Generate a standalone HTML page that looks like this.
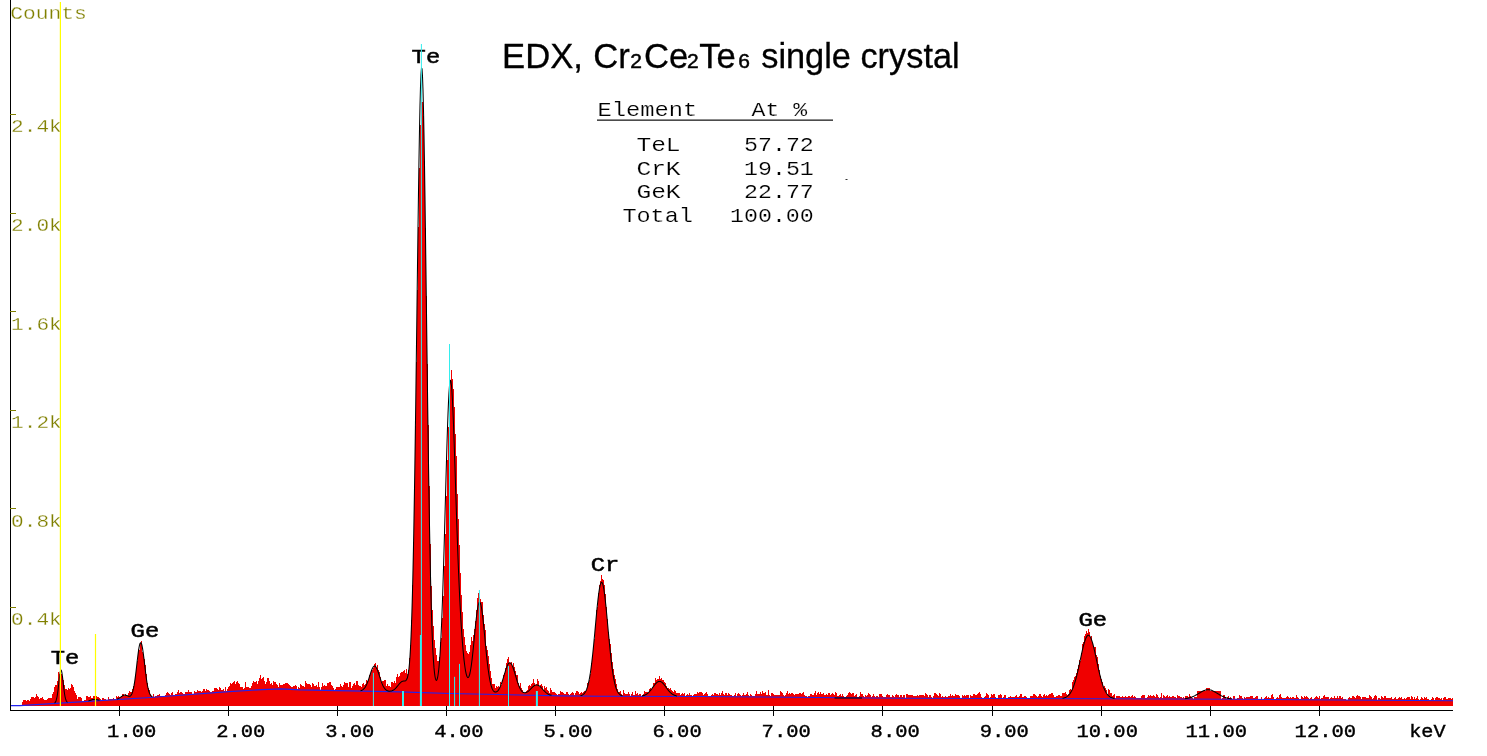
<!DOCTYPE html>
<html lang="en">
<head>
<meta charset="utf-8">
<title>EDX, Cr2Ce2Te6 single crystal</title>
<style>
html,body{margin:0;padding:0;background:#fff;}
body{width:1487px;height:756px;overflow:hidden;position:relative;}
svg{position:absolute;left:0;top:0;display:block;}
.mono{font-family:"Liberation Mono","Courier New",monospace;}
.sans{font-family:"Liberation Sans",Arial,sans-serif;}
.ylab{font-size:20.6px;fill:#808000;stroke:#fff;stroke-width:0.3px;}
.xlab{font-size:20.6px;fill:#000;stroke:#000;stroke-width:0.42px;}
.plab{font-size:23.4px;fill:#000;stroke:#000;stroke-width:0.6px;}
.tbl{font-size:23.4px;fill:#000;stroke:#fff;stroke-width:0.2px;}
</style>
</head>
<body>
<svg width="1487" height="756" viewBox="0 0 1487 756">
<rect x="0" y="0" width="1487" height="756" fill="#ffffff"/>

<!-- spectrum data (red histogram) -->
<path id="spec" fill="#f00000" stroke="none" shape-rendering="crispEdges" d="M22,706 22,702 23,702 23,700 26,700 26,701 27,701 27,700 29,700 29,701 30,701 30,699 31,699 31,697 34,697 34,698 35,698 35,697 36,697 36,694 37,694 37,696 38,696 38,697 39,697 39,699 40,699 40,698 42,698 42,697 43,697 43,699 44,699 44,700 47,700 47,699 48,699 48,698 52,698 52,694 53,694 53,692 54,692 54,687 55,687 55,685 57,685 57,681 58,681 58,672 59,672 59,674 60,674 60,670 61,670 61,674 62,674 62,676 63,676 63,680 64,680 64,685 65,685 65,689 67,689 67,690 68,690 68,688 69,688 69,689 70,689 70,688 71,688 71,684 72,684 72,685 73,685 73,687 74,687 74,691 75,691 75,693 76,693 76,695 77,695 77,699 78,699 78,697 81,697 81,698 82,698 82,701 84,701 84,700 86,700 86,696 88,696 88,697 90,697 90,696 91,696 91,698 93,698 93,696 95,696 95,698 96,698 96,696 97,696 97,697 99,697 99,698 100,698 100,699 101,699 101,700 102,700 102,698 104,698 104,699 106,699 106,700 108,700 108,697 109,697 109,699 113,699 113,698 114,698 114,699 116,699 116,696 117,696 117,697 118,697 118,696 119,696 119,697 122,697 122,694 124,694 124,696 125,696 125,694 126,694 126,695 127,695 127,696 128,696 128,693 129,693 129,691 130,691 130,692 132,692 132,689 133,689 133,686 134,686 134,683 135,683 135,676 136,676 136,668 137,668 137,661 138,661 138,649 139,649 139,650 140,650 140,643 141,643 141,641 142,641 142,652 143,652 143,654 144,654 144,659 145,659 145,665 146,665 146,674 147,674 147,683 148,683 148,688 149,688 149,690 150,690 150,694 151,694 151,696 152,696 152,697 153,697 153,694 154,694 154,697 155,697 155,696 157,696 157,695 159,695 159,694 160,694 160,696 165,696 165,695 166,695 166,693 167,693 167,692 168,692 168,693 169,693 169,694 170,694 170,695 171,695 171,693 172,693 172,692 173,692 173,695 175,695 175,694 177,694 177,692 178,692 178,690 179,690 179,693 180,693 180,692 182,692 182,693 183,693 183,694 185,694 185,692 188,692 188,690 189,690 189,692 192,692 192,694 194,694 194,691 195,691 195,692 197,692 197,690 198,690 198,691 201,691 201,692 202,692 202,691 203,691 203,689 205,689 205,691 206,691 206,689 207,689 207,690 209,690 209,691 210,691 210,692 212,692 212,691 214,691 214,688 217,688 217,689 218,689 218,690 219,690 219,687 220,687 220,688 221,688 221,690 223,690 223,689 224,689 224,691 225,691 225,687 226,687 226,691 227,691 227,689 228,689 228,687 229,687 229,686 230,686 230,683 231,683 231,684 232,684 232,683 233,683 233,682 234,682 234,681 235,681 235,684 236,684 236,682 237,682 237,681 238,681 238,683 239,683 239,684 240,684 240,687 243,687 243,689 244,689 244,688 245,688 245,682 246,682 246,687 249,687 249,688 251,688 251,686 252,686 252,683 253,683 253,681 254,681 254,682 256,682 256,681 257,681 257,684 258,684 258,681 259,681 259,678 260,678 260,675 261,675 261,679 262,679 262,678 263,678 263,677 264,677 264,681 265,681 265,684 266,684 266,682 267,682 267,678 269,678 269,681 270,681 270,684 271,684 271,683 272,683 272,685 273,685 273,681 274,681 274,682 276,682 276,684 277,684 277,685 278,685 278,687 279,687 279,683 280,683 280,685 283,685 283,684 285,684 285,683 288,683 288,684 289,684 289,685 290,685 290,686 291,686 291,687 293,687 293,686 295,686 295,685 296,685 296,686 297,686 297,689 298,689 298,687 299,687 299,688 300,688 300,684 301,684 301,685 302,685 302,686 304,686 304,687 305,687 305,681 306,681 306,683 307,683 307,684 310,684 310,685 311,685 311,687 312,687 312,683 313,683 313,684 314,684 314,686 316,686 316,685 317,685 317,687 318,687 318,682 319,682 319,687 320,687 320,690 321,690 321,687 322,687 322,683 323,683 323,686 324,686 324,685 325,685 325,686 327,686 327,683 329,683 329,682 331,682 331,685 332,685 332,686 333,686 333,688 334,688 334,690 335,690 335,689 336,689 336,687 340,687 340,684 341,684 341,686 342,686 342,687 343,687 343,685 344,685 344,682 345,682 345,683 348,683 348,687 349,687 349,682 351,682 351,688 352,688 352,686 353,686 353,684 354,684 354,683 355,683 355,685 356,685 356,681 358,681 358,685 359,685 359,686 361,686 361,687 362,687 362,684 363,684 363,683 364,683 364,685 365,685 365,684 366,684 366,680 367,680 367,681 368,681 368,680 369,680 369,675 370,675 370,674 371,674 371,671 372,671 372,670 373,670 373,668 374,668 374,664 375,664 375,663 376,663 376,668 377,668 377,665 378,665 378,670 379,670 379,672 380,672 380,677 381,677 381,682 382,682 382,681 384,681 384,680 386,680 386,686 387,686 387,684 388,684 388,686 390,686 390,687 391,687 391,682 393,682 393,683 394,683 394,681 395,681 395,683 396,683 396,677 397,677 397,674 398,674 398,677 399,677 399,676 400,676 400,673 401,673 401,672 403,672 403,671 404,671 404,670 405,670 405,673 406,673 406,669 407,669 407,674 408,674 408,670 409,670 409,658 410,658 410,645 411,645 411,620 412,620 412,585 413,585 413,542 414,542 414,488 415,488 415,426 416,426 416,362 417,362 417,290 418,290 418,227 419,227 419,168 420,168 420,125 421,125 421,102 423,102 423,116 424,116 424,161 425,161 425,228 426,228 426,296 427,296 427,364 428,364 428,425 429,425 429,486 430,486 430,544 431,544 431,586 432,586 432,610 433,610 433,626 434,626 434,640 435,640 435,648 436,648 436,655 437,655 437,661 439,661 439,657 440,657 440,642 441,642 441,638 442,638 442,618 443,618 443,596 444,596 444,566 445,566 445,534 446,534 446,496 447,496 447,460 448,460 448,427 449,427 449,401 450,401 450,380 451,380 451,370 452,370 452,379 453,379 453,389 454,389 454,407 455,407 455,434 456,434 456,456 457,456 457,494 458,494 458,519 459,519 459,545 460,545 460,573 461,573 461,595 462,595 462,612 463,612 463,629 464,629 464,637 465,637 465,645 466,645 466,651 467,651 467,653 468,653 468,654 469,654 469,652 470,652 470,645 471,645 471,637 472,637 472,641 473,641 473,635 474,635 474,629 475,629 475,621 476,621 476,610 477,610 477,598 478,598 478,593 479,593 479,597 480,597 480,599 481,599 481,602 483,602 483,615 484,615 484,624 485,624 485,630 486,630 486,646 487,646 487,650 488,650 488,656 489,656 489,664 490,664 490,671 491,671 491,678 492,678 492,684 495,684 495,688 496,688 496,686 497,686 497,687 498,687 498,686 499,686 499,687 500,687 500,682 501,682 501,685 502,685 502,680 503,680 503,675 504,675 504,673 505,673 505,668 506,668 506,663 507,663 507,659 508,659 508,657 509,657 509,663 511,663 511,662 512,662 512,666 513,666 513,663 514,663 514,667 515,667 515,671 516,671 516,675 518,675 518,683 519,683 519,686 520,686 520,683 521,683 521,688 522,688 522,690 523,690 523,693 525,693 525,692 526,692 526,691 527,691 527,690 528,690 528,686 529,686 529,685 530,685 530,686 531,686 531,684 532,684 532,683 533,683 533,679 534,679 534,683 535,683 535,685 536,685 536,684 537,684 537,679 538,679 538,681 539,681 539,687 540,687 540,685 541,685 541,684 542,684 542,686 543,686 543,690 544,690 544,686 545,686 545,688 546,688 546,687 547,687 547,690 548,690 548,691 549,691 549,693 550,693 550,688 551,688 551,690 552,690 552,692 555,692 555,693 556,693 556,694 557,694 557,695 558,695 558,694 560,694 560,691 561,691 561,692 563,692 563,693 564,693 564,694 566,694 566,692 568,692 568,694 569,694 569,695 570,695 570,694 571,694 571,693 572,693 572,692 573,692 573,693 574,693 574,695 575,695 575,693 576,693 576,691 578,691 578,692 579,692 579,694 580,694 580,693 581,693 581,692 582,692 582,693 583,693 583,692 584,692 584,691 586,691 586,690 587,690 587,683 588,683 588,684 589,684 589,680 590,680 590,674 591,674 591,663 592,663 592,656 593,656 593,647 594,647 594,639 595,639 595,624 596,624 596,610 597,610 597,607 598,607 598,593 599,593 599,585 600,585 600,581 601,581 601,575 602,575 602,579 603,579 603,580 604,580 604,585 605,585 605,594 606,594 606,607 607,607 607,619 608,619 608,632 609,632 609,639 610,639 610,644 611,644 611,653 612,653 612,662 613,662 613,669 614,669 614,675 615,675 615,679 616,679 616,684 617,684 617,689 618,689 618,692 620,692 620,691 621,691 621,694 622,694 622,695 623,695 623,690 624,690 624,693 625,693 625,694 628,694 628,692 629,692 629,694 630,694 630,696 631,696 631,694 632,694 632,692 633,692 633,695 635,695 635,691 636,691 636,694 637,694 637,693 638,693 638,695 639,695 639,694 641,694 641,696 642,696 642,695 643,695 643,694 644,694 644,691 645,691 645,692 648,692 648,693 649,693 649,689 650,689 650,688 651,688 651,689 652,689 652,687 653,687 653,683 655,683 655,678 656,678 656,680 657,680 657,679 659,679 659,676 660,676 660,679 661,679 661,678 662,678 662,680 664,680 664,682 665,682 665,683 666,683 666,686 667,686 667,688 669,688 669,689 670,689 670,688 671,688 671,690 672,690 672,691 673,691 673,692 674,692 674,690 675,690 675,691 676,691 676,693 680,693 680,695 681,695 681,694 682,694 682,693 683,693 683,694 684,694 684,693 685,693 685,696 686,696 686,695 687,695 687,694 688,694 688,695 689,695 689,693 690,693 690,695 692,695 692,696 693,696 693,695 694,695 694,694 697,694 697,692 698,692 698,693 699,693 699,692 702,692 702,693 703,693 703,695 704,695 704,694 705,694 705,693 706,693 706,692 707,692 707,694 708,694 708,696 711,696 711,695 712,695 712,694 713,694 713,695 714,695 714,693 716,693 716,694 718,694 718,695 719,695 719,693 720,693 720,695 721,695 721,693 722,693 722,691 723,691 723,694 724,694 724,695 725,695 725,693 727,693 727,695 728,695 728,693 729,693 729,694 730,694 730,695 732,695 732,696 734,696 734,695 735,695 735,693 736,693 736,696 737,696 737,694 738,694 738,693 739,693 739,694 740,694 740,695 741,695 741,696 742,696 742,695 743,695 743,693 744,693 744,695 746,695 746,694 747,694 747,692 748,692 748,695 749,695 749,696 750,696 750,694 751,694 751,695 752,695 752,696 755,696 755,694 756,694 756,691 757,691 757,694 760,694 760,692 761,692 761,694 762,694 762,691 763,691 763,693 765,693 765,692 766,692 766,695 768,695 768,690 769,690 769,695 770,695 770,696 771,696 771,693 773,693 773,694 774,694 774,695 780,695 780,691 781,691 781,692 782,692 782,693 783,693 783,695 784,695 784,696 785,696 785,695 786,695 786,693 787,693 787,691 788,691 788,694 789,694 789,693 790,693 790,694 791,694 791,693 793,693 793,694 794,694 794,695 795,695 795,694 799,694 799,693 801,693 801,694 802,694 802,693 803,693 803,692 804,692 804,695 805,695 805,696 807,696 807,697 808,697 808,696 810,696 810,694 812,694 812,695 814,695 814,693 815,693 815,691 816,691 816,695 817,695 817,693 818,693 818,692 819,692 819,694 820,694 820,692 821,692 821,694 823,694 823,693 824,693 824,695 826,695 826,694 827,694 827,695 828,695 828,693 830,693 830,695 831,695 831,694 832,694 832,693 833,693 833,694 834,694 834,695 835,695 835,692 836,692 836,693 837,693 837,696 839,696 839,695 840,695 840,694 841,694 841,696 842,696 842,694 843,694 843,696 844,696 844,697 846,697 846,696 847,696 847,695 848,695 848,693 849,693 849,692 850,692 850,693 851,693 851,694 852,694 852,693 854,693 854,696 855,696 855,695 856,695 856,694 857,694 857,697 859,697 859,696 860,696 860,692 861,692 861,694 863,694 863,696 864,696 864,697 865,697 865,695 866,695 866,696 867,696 867,695 868,695 868,693 869,693 869,694 870,694 870,695 871,695 871,697 872,697 872,696 873,696 873,694 874,694 874,696 875,696 875,697 876,697 876,696 878,696 878,697 879,697 879,694 882,694 882,696 883,696 883,697 886,697 886,695 887,695 887,694 888,694 888,695 890,695 890,697 892,697 892,695 893,695 893,696 894,696 894,697 895,697 895,695 896,695 896,694 897,694 897,695 899,695 899,697 900,697 900,695 902,695 902,697 903,697 903,695 905,695 905,698 906,698 906,694 908,694 908,695 913,695 913,696 917,696 917,695 918,695 918,696 919,696 919,695 924,695 924,696 925,696 925,693 926,693 926,694 927,694 927,695 928,695 928,697 929,697 929,695 931,695 931,697 932,697 932,698 933,698 933,696 934,696 934,693 936,693 936,694 937,694 937,695 938,695 938,696 939,696 939,693 940,693 940,694 941,694 941,697 942,697 942,696 943,696 943,697 945,697 945,696 946,696 946,697 948,697 948,696 950,696 950,694 951,694 951,696 952,696 952,695 953,695 953,696 955,696 955,694 956,694 956,695 959,695 959,696 960,696 960,698 962,698 962,695 963,695 963,696 964,696 964,695 965,695 965,696 966,696 966,695 969,695 969,698 970,698 970,695 971,695 971,696 973,696 973,694 975,694 975,695 977,695 977,694 978,694 978,693 979,693 979,692 980,692 980,694 981,694 981,697 982,697 982,698 984,698 984,697 985,697 985,696 986,696 986,693 987,693 987,694 988,694 988,695 989,695 989,698 990,698 990,697 991,697 991,694 992,694 992,695 993,695 993,694 995,694 995,697 996,697 996,698 998,698 998,695 1000,695 1000,694 1001,694 1001,695 1002,695 1002,698 1003,698 1003,697 1004,697 1004,695 1006,695 1006,698 1008,698 1008,697 1010,697 1010,696 1011,696 1011,697 1015,697 1015,696 1016,696 1016,695 1017,695 1017,697 1019,697 1019,696 1020,696 1020,694 1022,694 1022,697 1024,697 1024,696 1026,696 1026,697 1027,697 1027,698 1030,698 1030,696 1033,696 1033,694 1035,694 1035,695 1036,695 1036,696 1037,696 1037,697 1038,697 1038,696 1039,696 1039,694 1041,694 1041,696 1042,696 1042,697 1043,697 1043,695 1044,695 1044,694 1045,694 1045,696 1046,696 1046,695 1047,695 1047,696 1048,696 1048,695 1049,695 1049,694 1051,694 1051,693 1053,693 1053,695 1054,695 1054,697 1056,697 1056,696 1058,696 1058,695 1060,695 1060,696 1062,696 1062,693 1065,693 1065,692 1066,692 1066,694 1067,694 1067,695 1068,695 1068,694 1069,694 1069,690 1070,690 1070,689 1071,689 1071,690 1072,690 1072,682 1073,682 1073,680 1074,680 1074,677 1075,677 1075,676 1076,676 1076,673 1077,673 1077,669 1078,669 1078,665 1079,665 1079,660 1080,660 1080,661 1081,661 1081,653 1082,653 1082,644 1083,644 1083,642 1084,642 1084,636 1085,636 1085,634 1086,634 1086,631 1087,631 1087,633 1088,633 1088,629 1089,629 1089,632 1090,632 1090,638 1091,638 1091,636 1092,636 1092,643 1093,643 1093,646 1094,646 1094,647 1096,647 1096,655 1097,655 1097,657 1098,657 1098,664 1099,664 1099,670 1100,670 1100,676 1101,676 1101,679 1102,679 1102,682 1103,682 1103,687 1104,687 1104,686 1105,686 1105,688 1106,688 1106,690 1107,690 1107,694 1108,694 1108,689 1109,689 1109,690 1110,690 1110,693 1112,693 1112,696 1113,696 1113,695 1114,695 1114,694 1115,694 1115,698 1116,698 1116,696 1120,696 1120,697 1122,697 1122,696 1123,696 1123,697 1125,697 1125,696 1126,696 1126,697 1128,697 1128,696 1130,696 1130,697 1131,697 1131,696 1132,696 1132,695 1133,695 1133,697 1134,697 1134,696 1135,696 1135,697 1136,697 1136,698 1141,698 1141,696 1142,696 1142,695 1145,695 1145,698 1147,698 1147,697 1148,697 1148,695 1149,695 1149,696 1150,696 1150,695 1151,695 1151,696 1153,696 1153,695 1154,695 1154,696 1155,696 1155,697 1156,697 1156,694 1157,694 1157,695 1158,695 1158,697 1159,697 1159,698 1160,698 1160,697 1161,697 1161,693 1162,693 1162,698 1163,698 1163,695 1164,695 1164,696 1165,696 1165,697 1166,697 1166,696 1167,696 1167,695 1168,695 1168,697 1169,697 1169,696 1170,696 1170,697 1172,697 1172,696 1174,696 1174,697 1176,697 1176,698 1177,698 1177,695 1178,695 1178,696 1180,696 1180,697 1182,697 1182,698 1183,698 1183,697 1184,697 1184,698 1185,698 1185,696 1188,696 1188,697 1189,697 1189,694 1190,694 1190,696 1191,696 1191,697 1192,697 1192,698 1193,698 1193,699 1194,699 1194,697 1197,697 1197,691 1206,691 1206,688 1210,688 1210,691 1221,691 1221,699 1222,699 1222,698 1223,698 1223,695 1225,695 1225,698 1226,698 1226,699 1227,699 1227,697 1228,697 1228,696 1229,696 1229,699 1230,699 1230,697 1231,697 1231,698 1232,698 1232,699 1233,699 1233,696 1235,696 1235,699 1237,699 1237,698 1239,698 1239,695 1240,695 1240,696 1242,696 1242,698 1243,698 1243,699 1244,699 1244,697 1245,697 1245,698 1246,698 1246,697 1250,697 1250,696 1253,696 1253,698 1255,698 1255,697 1256,697 1256,696 1258,696 1258,699 1261,699 1261,697 1262,697 1262,700 1263,700 1263,699 1264,699 1264,698 1265,698 1265,697 1266,697 1266,696 1267,696 1267,698 1268,698 1268,697 1269,697 1269,698 1271,698 1271,695 1272,695 1272,694 1273,694 1273,697 1274,697 1274,699 1276,699 1276,698 1277,698 1277,697 1278,697 1278,698 1279,698 1279,695 1280,695 1280,694 1281,694 1281,697 1282,697 1282,698 1286,698 1286,697 1287,697 1287,696 1288,696 1288,697 1289,697 1289,698 1290,698 1290,697 1291,697 1291,698 1292,698 1292,697 1294,697 1294,698 1296,698 1296,695 1297,695 1297,697 1298,697 1298,698 1299,698 1299,699 1301,699 1301,696 1302,696 1302,697 1303,697 1303,698 1304,698 1304,696 1305,696 1305,697 1306,697 1306,696 1307,696 1307,697 1308,697 1308,698 1309,698 1309,699 1310,699 1310,698 1311,698 1311,697 1312,697 1312,699 1314,699 1314,698 1315,698 1315,697 1316,697 1316,696 1317,696 1317,697 1318,697 1318,698 1319,698 1319,696 1320,696 1320,699 1321,699 1321,698 1323,698 1323,696 1324,696 1324,695 1325,695 1325,697 1329,697 1329,699 1330,699 1330,698 1331,698 1331,697 1332,697 1332,698 1334,698 1334,696 1335,696 1335,698 1337,698 1337,696 1338,696 1338,698 1339,698 1339,696 1341,696 1341,698 1342,698 1342,697 1343,697 1343,699 1346,699 1346,700 1348,700 1348,698 1349,698 1349,697 1350,697 1350,698 1352,698 1352,696 1354,696 1354,697 1355,697 1355,698 1356,698 1356,696 1357,696 1357,695 1358,695 1358,696 1360,696 1360,697 1361,697 1361,699 1362,699 1362,697 1366,697 1366,698 1369,698 1369,695 1370,695 1370,696 1371,696 1371,697 1372,697 1372,699 1373,699 1373,698 1374,698 1374,696 1375,696 1375,695 1376,695 1376,696 1377,696 1377,700 1378,700 1378,698 1380,698 1380,699 1381,699 1381,696 1382,696 1382,697 1383,697 1383,698 1384,698 1384,696 1386,696 1386,698 1391,698 1391,697 1392,697 1392,699 1394,699 1394,698 1395,698 1395,697 1396,697 1396,699 1398,699 1398,698 1399,698 1399,697 1400,697 1400,698 1401,698 1401,697 1402,697 1402,699 1404,699 1404,698 1405,698 1405,699 1406,699 1406,698 1407,698 1407,697 1410,697 1410,699 1411,699 1411,696 1412,696 1412,697 1413,697 1413,699 1414,699 1414,697 1415,697 1415,699 1416,699 1416,698 1417,698 1417,696 1418,696 1418,699 1419,699 1419,700 1420,700 1420,699 1421,699 1421,697 1422,697 1422,698 1423,698 1423,699 1424,699 1424,697 1425,697 1425,698 1426,698 1426,697 1427,697 1427,699 1429,699 1429,700 1431,700 1431,699 1432,699 1432,697 1433,697 1433,698 1434,698 1434,700 1435,700 1435,698 1436,698 1436,697 1438,697 1438,698 1440,698 1440,699 1441,699 1441,698 1442,698 1442,700 1443,700 1443,698 1444,698 1444,697 1446,697 1446,699 1448,699 1448,698 1451,698 1451,699 1452,699 1452,698 1453,698 1453,706Z"/>

<!-- background fit (blue) -->
<path id="bg" fill="none" stroke="#2222ee" stroke-width="1.1" d="M10.0,705.6 20.0,705.6 60.0,703.1 150.0,697.5 229.0,691.6 262.0,689.6 281.0,688.9 300.0,689.9 400.0,691.9 450.0,693.5 560.0,695.9 600.0,696.2 700.0,696.5 900.0,698.2 1000.0,698.5 1100.0,698.8 1240.0,699.3 1300.0,699.8 1453.0,700.8"/>

<!-- peak fit (black) -->
<path id="fit" fill="none" stroke="#000" stroke-width="1.05" stroke-linejoin="round" d="M54.5,703.0 55.0,702.6 55.5,701.9 56.0,700.9 56.5,699.2 57.0,697.0 57.5,693.9 58.0,690.2 58.5,685.9 59.0,681.3 59.5,677.0 60.0,673.3 60.5,670.9 61.0,670.0 61.5,670.8 62.0,673.2 62.5,676.8 63.0,681.1 63.5,685.6 64.0,689.8 64.5,693.5 65.0,696.5 65.5,698.7 66.0,700.2 66.5,701.2 67.0,701.9 67.5,702.2 M88.5,700.9 89.0,700.7 89.5,700.6 90.0,700.4 90.5,700.2 91.0,700.1 91.5,699.9 92.0,699.7 92.5,699.6 93.0,699.5 93.5,699.4 94.0,699.4 94.5,699.4 95.0,699.4 95.5,699.4 96.0,699.5 96.5,699.6 97.0,699.7 97.5,699.8 98.0,699.9 98.5,700.0 99.0,700.1 99.5,700.2 M117.0,699.1 117.5,699.0 118.0,698.7 118.5,698.5 119.0,698.2 119.5,697.9 120.0,697.6 120.5,697.2 121.0,696.9 121.5,696.5 122.0,696.2 122.5,695.8 123.0,695.6 123.5,695.3 124.0,695.2 124.5,695.1 125.0,695.1 125.5,695.1 126.0,695.2 126.5,695.4 127.0,695.6 127.5,695.8 128.0,696.0 128.5,696.2 129.0,696.3 129.5,696.3 130.0,696.2 130.5,695.9 131.0,695.3 131.5,694.6 132.0,693.5 132.5,692.1 133.0,690.4 133.5,688.2 134.0,685.7 134.5,682.7 135.0,679.3 135.5,675.5 136.0,671.5 136.5,667.2 137.0,662.9 137.5,658.6 138.0,654.6 138.5,650.9 139.0,647.7 139.5,645.2 140.0,643.5 140.5,642.7 141.0,642.7 141.5,643.7 142.0,645.5 142.5,648.1 143.0,651.3 143.5,655.0 144.0,659.1 144.5,663.3 145.0,667.6 145.5,671.8 146.0,675.7 146.5,679.4 147.0,682.6 147.5,685.5 148.0,688.0 148.5,690.1 149.0,691.8 149.5,693.2 150.0,694.3 150.5,695.1 151.0,695.7 151.5,696.2 152.0,696.5 152.5,696.7 M360.5,690.7 361.0,690.6 361.5,690.4 362.0,690.2 362.5,689.9 363.0,689.6 363.5,689.2 364.0,688.7 364.5,688.2 365.0,687.5 365.5,686.7 366.0,685.8 366.5,684.8 367.0,683.6 367.5,682.4 368.0,681.0 368.5,679.6 369.0,678.1 369.5,676.5 370.0,675.0 370.5,673.4 371.0,671.9 371.5,670.5 372.0,669.3 372.5,668.2 373.0,667.3 373.5,666.6 374.0,666.2 374.5,666.0 375.0,666.1 375.5,666.4 376.0,667.0 376.5,667.9 377.0,668.9 377.5,670.1 378.0,671.5 378.5,673.0 379.0,674.5 379.5,676.1 380.0,677.7 380.5,679.2 381.0,680.7 381.5,682.1 382.0,683.4 382.5,684.6 383.0,685.7 383.5,686.7 384.0,687.5 384.5,688.3 385.0,688.9 385.5,689.4 386.0,689.9 386.5,690.3 387.0,690.5 387.5,690.8 388.0,690.9 388.5,691.1 389.0,691.1 389.5,691.2 390.0,691.2 390.5,691.1 391.0,691.0 391.5,690.9 392.0,690.8 392.5,690.6 393.0,690.3 393.5,690.0 394.0,689.7 394.5,689.3 395.0,688.9 395.5,688.4 396.0,687.9 396.5,687.3 397.0,686.7 397.5,686.1 398.0,685.5 398.5,684.9 399.0,684.2 399.5,683.7 400.0,683.1 400.5,682.6 401.0,682.2 401.5,681.8 402.0,681.5 402.5,681.3 403.0,681.2 403.5,681.1 404.0,681.0 404.5,681.0 405.0,680.9 405.5,680.7 406.0,680.4 406.5,679.7 407.0,678.8 407.5,677.3 408.0,675.1 408.5,672.2 409.0,668.2 409.5,663.0 410.0,656.2 410.5,647.7 411.0,637.2 411.5,624.4 412.0,609.1 412.5,591.0 413.0,570.0 413.5,545.9 414.0,518.8 414.5,488.7 415.0,455.9 415.5,420.5 416.0,383.3 416.5,344.6 417.0,305.3 417.5,266.1 418.0,228.0 418.5,191.9 419.0,158.9 419.5,129.8 420.0,105.5 420.5,86.8 421.0,74.2 421.5,68.1 422.0,68.8 422.5,76.2 423.0,90.1 423.5,110.1 424.0,135.5 424.5,165.5 425.0,199.2 425.5,235.9 426.0,274.3 426.5,313.7 427.0,353.0 427.5,391.6 428.0,428.7 428.5,463.7 429.0,496.2 429.5,525.9 430.0,552.6 430.5,576.3 431.0,597.0 431.5,614.9 432.0,630.0 432.5,642.6 433.0,653.0 433.5,661.3 434.0,667.9 434.5,672.9 435.0,676.5 435.5,678.9 436.0,680.1 436.5,680.4 437.0,679.7 437.5,678.0 438.0,675.3 438.5,671.7 439.0,667.0 439.5,661.2 440.0,654.2 440.5,646.0 441.0,636.4 441.5,625.4 442.0,613.1 442.5,599.4 443.0,584.5 443.5,568.3 444.0,551.2 444.5,533.3 445.0,515.0 445.5,496.4 446.0,478.0 446.5,460.2 447.0,443.3 447.5,427.7 448.0,413.9 448.5,402.1 449.0,392.7 449.5,385.8 450.0,381.7 450.5,380.3 451.0,381.7 451.5,385.8 452.0,392.4 452.5,401.2 453.0,412.1 453.5,424.5 454.0,438.3 454.5,453.1 455.0,468.4 455.5,484.0 456.0,499.6 456.5,515.0 457.0,529.9 457.5,544.1 458.0,557.7 458.5,570.4 459.0,582.3 459.5,593.3 460.0,603.5 460.5,613.0 461.0,621.6 461.5,629.6 462.0,636.8 462.5,643.4 463.0,649.4 463.5,654.8 464.0,659.6 464.5,663.8 465.0,667.5 465.5,670.6 466.0,673.1 466.5,675.1 467.0,676.5 467.5,677.3 468.0,677.6 468.5,677.3 469.0,676.4 469.5,675.0 470.0,673.0 470.5,670.5 471.0,667.5 471.5,664.0 472.0,660.1 472.5,655.7 473.0,651.1 473.5,646.2 474.0,641.1 474.5,635.9 475.0,630.8 475.5,625.8 476.0,621.0 476.5,616.5 477.0,612.5 477.5,609.0 478.0,606.2 478.5,604.1 479.0,602.7 479.5,602.2 480.0,602.4 480.5,603.5 481.0,605.3 481.5,607.9 482.0,611.2 482.5,615.0 483.0,619.3 483.5,624.1 484.0,629.1 484.5,634.2 485.0,639.5 485.5,644.8 486.0,649.9 486.5,654.9 487.0,659.6 487.5,664.0 488.0,668.1 488.5,671.8 489.0,675.2 489.5,678.2 490.0,680.9 490.5,683.2 491.0,685.2 491.5,686.8 492.0,688.2 492.5,689.4 493.0,690.3 493.5,691.0 494.0,691.5 494.5,691.8 495.0,692.0 495.5,692.1 496.0,692.0 496.5,691.8 497.0,691.5 497.5,691.1 498.0,690.6 498.5,689.9 499.0,689.1 499.5,688.2 500.0,687.2 500.5,686.1 501.0,684.9 501.5,683.5 502.0,682.1 502.5,680.5 503.0,678.9 503.5,677.3 504.0,675.6 504.5,673.9 505.0,672.3 505.5,670.6 506.0,669.1 506.5,667.7 507.0,666.4 507.5,665.3 508.0,664.3 508.5,663.6 509.0,663.1 509.5,662.8 510.0,662.8 510.5,663.1 511.0,663.5 511.5,664.2 512.0,665.1 512.5,666.3 513.0,667.5 513.5,669.0 514.0,670.5 514.5,672.1 515.0,673.8 515.5,675.5 516.0,677.2 516.5,678.9 517.0,680.5 517.5,682.1 518.0,683.5 518.5,684.9 519.0,686.2 519.5,687.3 520.0,688.4 520.5,689.3 521.0,690.1 521.5,690.8 522.0,691.4 522.5,691.8 523.0,692.2 523.5,692.5 524.0,692.6 524.5,692.7 525.0,692.8 525.5,692.7 526.0,692.6 526.5,692.4 527.0,692.1 527.5,691.8 528.0,691.5 528.5,691.1 529.0,690.6 529.5,690.2 530.0,689.7 530.5,689.2 531.0,688.7 531.5,688.1 532.0,687.6 532.5,687.1 533.0,686.7 533.5,686.3 534.0,685.9 534.5,685.5 535.0,685.3 535.5,685.1 536.0,684.9 536.5,684.9 537.0,684.9 537.5,685.0 538.0,685.2 538.5,685.4 539.0,685.7 539.5,686.1 540.0,686.5 540.5,686.9 541.0,687.4 541.5,688.0 542.0,688.5 542.5,689.0 543.0,689.6 543.5,690.1 544.0,690.7 544.5,691.2 545.0,691.7 545.5,692.1 546.0,692.6 546.5,693.0 547.0,693.3 547.5,693.7 548.0,694.0 548.5,694.2 549.0,694.5 549.5,694.7 550.0,694.9 550.5,695.0 551.0,695.1 551.5,695.3 M580.5,695.6 581.0,695.5 581.5,695.4 582.0,695.2 582.5,694.9 583.0,694.6 583.5,694.2 584.0,693.8 584.5,693.2 585.0,692.5 585.5,691.7 586.0,690.8 586.5,689.7 587.0,688.3 587.5,686.8 588.0,685.0 588.5,683.0 589.0,680.7 589.5,678.1 590.0,675.2 590.5,672.0 591.0,668.5 591.5,664.6 592.0,660.4 592.5,656.0 593.0,651.2 593.5,646.3 594.0,641.1 594.5,635.7 595.0,630.3 595.5,624.8 596.0,619.4 596.5,614.0 597.0,608.9 597.5,603.9 598.0,599.4 598.5,595.2 599.0,591.5 599.5,588.4 600.0,585.8 600.5,583.9 601.0,582.7 601.5,582.2 602.0,582.4 602.5,583.4 603.0,585.0 603.5,587.3 604.0,590.2 604.5,593.7 605.0,597.7 605.5,602.1 606.0,606.9 606.5,612.0 607.0,617.3 607.5,622.7 608.0,628.2 608.5,633.6 609.0,639.0 609.5,644.3 610.0,649.4 610.5,654.2 611.0,658.8 611.5,663.1 612.0,667.1 612.5,670.7 613.0,674.1 613.5,677.1 614.0,679.8 614.5,682.2 615.0,684.4 615.5,686.3 616.0,687.9 616.5,689.3 617.0,690.5 617.5,691.5 618.0,692.4 618.5,693.1 619.0,693.7 619.5,694.2 620.0,694.7 620.5,695.0 621.0,695.3 621.5,695.5 622.0,695.7 622.5,695.8 M642.0,695.9 642.5,695.8 643.0,695.7 643.5,695.5 644.0,695.4 644.5,695.2 645.0,695.0 645.5,694.8 646.0,694.5 646.5,694.2 647.0,693.8 647.5,693.5 648.0,693.1 648.5,692.6 649.0,692.1 649.5,691.6 650.0,691.0 650.5,690.4 651.0,689.8 651.5,689.2 652.0,688.5 652.5,687.8 653.0,687.1 653.5,686.4 654.0,685.8 654.5,685.1 655.0,684.5 655.5,683.9 656.0,683.3 656.5,682.8 657.0,682.4 657.5,682.0 658.0,681.8 658.5,681.5 659.0,681.4 659.5,681.4 660.0,681.4 660.5,681.6 661.0,681.8 661.5,682.1 662.0,682.4 662.5,682.9 663.0,683.4 663.5,683.9 664.0,684.5 664.5,685.1 665.0,685.8 665.5,686.5 666.0,687.2 666.5,687.9 667.0,688.5 667.5,689.2 668.0,689.9 668.5,690.5 669.0,691.1 669.5,691.6 670.0,692.2 670.5,692.7 671.0,693.1 671.5,693.5 672.0,693.9 672.5,694.3 673.0,694.6 673.5,694.8 674.0,695.1 674.5,695.3 675.0,695.5 675.5,695.6 676.0,695.8 676.5,695.9 677.0,696.0 M1062.5,698.3 1063.0,698.2 1063.5,698.1 1064.0,697.9 1064.5,697.8 1065.0,697.6 1065.5,697.4 1066.0,697.2 1066.5,696.9 1067.0,696.6 1067.5,696.2 1068.0,695.8 1068.5,695.4 1069.0,694.8 1069.5,694.3 1070.0,693.6 1070.5,692.8 1071.0,692.0 1071.5,691.1 1072.0,690.1 1072.5,689.0 1073.0,687.8 1073.5,686.5 1074.0,685.1 1074.5,683.6 1075.0,682.0 1075.5,680.3 1076.0,678.5 1076.5,676.6 1077.0,674.6 1077.5,672.5 1078.0,670.3 1078.5,668.1 1079.0,665.8 1079.5,663.5 1080.0,661.2 1080.5,658.8 1081.0,656.5 1081.5,654.2 1082.0,651.9 1082.5,649.7 1083.0,647.6 1083.5,645.6 1084.0,643.8 1084.5,642.0 1085.0,640.5 1085.5,639.1 1086.0,637.9 1086.5,636.9 1087.0,636.2 1087.5,635.6 1088.0,635.3 1088.5,635.3 1089.0,635.4 1089.5,635.8 1090.0,636.5 1090.5,637.3 1091.0,638.4 1091.5,639.7 1092.0,641.1 1092.5,642.7 1093.0,644.5 1093.5,646.4 1094.0,648.5 1094.5,650.6 1095.0,652.9 1095.5,655.1 1096.0,657.5 1096.5,659.8 1097.0,662.2 1097.5,664.5 1098.0,666.8 1098.5,669.1 1099.0,671.3 1099.5,673.4 1100.0,675.5 1100.5,677.4 1101.0,679.3 1101.5,681.1 1102.0,682.8 1102.5,684.3 1103.0,685.8 1103.5,687.2 1104.0,688.4 1104.5,689.6 1105.0,690.6 1105.5,691.6 1106.0,692.5 1106.5,693.3 1107.0,694.0 1107.5,694.6 1108.0,695.2 1108.5,695.7 1109.0,696.1 1109.5,696.5 1110.0,696.9 1110.5,697.2 1111.0,697.4 1111.5,697.6 1112.0,697.8 1112.5,698.0 1113.0,698.1 1113.5,698.3 1114.0,698.4 1114.5,698.5 M1185.0,698.7 1185.5,698.6 1186.0,698.5 1186.5,698.5 1187.0,698.4 1187.5,698.3 1188.0,698.2 1188.5,698.1 1189.0,698.0 1189.5,697.8 1190.0,697.7 1190.5,697.5 1191.0,697.4 1191.5,697.2 1192.0,697.0 1192.5,696.8 1193.0,696.6 1193.5,696.4 1194.0,696.1 1194.5,695.9 1195.0,695.6 1195.5,695.3 1196.0,695.1 1196.5,694.8 1197.0,694.5 1197.5,694.2 1198.0,693.9 1198.5,693.6 1199.0,693.3 1199.5,693.0 1200.0,692.7 1200.5,692.4 1201.0,692.1 1201.5,691.8 1202.0,691.5 1202.5,691.2 1203.0,691.0 1203.5,690.8 1204.0,690.6 1204.5,690.4 1205.0,690.2 1205.5,690.0 1206.0,689.9 1206.5,689.8 1207.0,689.7 1207.5,689.7 1208.0,689.7 1208.5,689.7 1209.0,689.7 1209.5,689.8 1210.0,689.9 1210.5,690.0 1211.0,690.1 1211.5,690.3 1212.0,690.5 1212.5,690.7 1213.0,690.9 1213.5,691.2 1214.0,691.4 1214.5,691.7 1215.0,692.0 1215.5,692.3 1216.0,692.6 1216.5,692.9 1217.0,693.2 1217.5,693.5 1218.0,693.8 1218.5,694.1 1219.0,694.4 1219.5,694.7 1220.0,695.0 1220.5,695.3 1221.0,695.6 1221.5,695.9 1222.0,696.1 1222.5,696.4 1223.0,696.6 1223.5,696.8 1224.0,697.0 1224.5,697.2 1225.0,697.4 1225.5,697.6 1226.0,697.8 1226.5,697.9 1227.0,698.0 1227.5,698.2 1228.0,698.3 1228.5,698.4 1229.0,698.5 1229.5,698.6 1230.0,698.7 1230.5,698.7 1231.0,698.8 1231.5,698.9 M834.5,698 L862,698"/>

<!-- axes -->
<g stroke="#000" stroke-width="1" fill="none" shape-rendering="crispEdges">
<line x1="10.5" y1="0" x2="10.5" y2="711"/>
<line x1="10" y1="710.5" x2="1453" y2="710.5"/>
<line x1="119.5" y1="706" x2="119.5" y2="716"/>
<line x1="228.5" y1="706" x2="228.5" y2="716"/>
<line x1="337.5" y1="706" x2="337.5" y2="716"/>
<line x1="446.5" y1="706" x2="446.5" y2="716"/>
<line x1="555.5" y1="706" x2="555.5" y2="716"/>
<line x1="664.5" y1="706" x2="664.5" y2="716"/>
<line x1="773.5" y1="706" x2="773.5" y2="716"/>
<line x1="882.5" y1="706" x2="882.5" y2="716"/>
<line x1="992.5" y1="706" x2="992.5" y2="716"/>
<line x1="1101.5" y1="706" x2="1101.5" y2="716"/>
<line x1="1210.5" y1="706" x2="1210.5" y2="716"/>
<line x1="1319.5" y1="706" x2="1319.5" y2="716"/>
</g>
<g stroke="#808000" stroke-width="1" fill="none" shape-rendering="crispEdges">
<line x1="10" y1="607.5" x2="16" y2="607.5"/>
<line x1="10" y1="508.5" x2="16" y2="508.5"/>
<line x1="10" y1="410.5" x2="16" y2="410.5"/>
<line x1="10" y1="311.5" x2="16" y2="311.5"/>
<line x1="10" y1="213.5" x2="16" y2="213.5"/>
<line x1="10" y1="114.5" x2="16" y2="114.5"/>
</g>
<!-- axis labels -->
<g class="mono ylab">
<text transform="translate(10.3,19) scale(1,0.88)" textLength="76.5" lengthAdjust="spacingAndGlyphs">Counts</text>
<text transform="translate(11.1,625.08) scale(1,0.88)" textLength="50.6" lengthAdjust="spacingAndGlyphs">0.4k</text>
<text transform="translate(11.1,526.56) scale(1,0.88)" textLength="50.6" lengthAdjust="spacingAndGlyphs">0.8k</text>
<text transform="translate(11.1,428.04) scale(1,0.88)" textLength="50.6" lengthAdjust="spacingAndGlyphs">1.2k</text>
<text transform="translate(11.1,329.52) scale(1,0.88)" textLength="50.6" lengthAdjust="spacingAndGlyphs">1.6k</text>
<text transform="translate(11.1,231) scale(1,0.88)" textLength="50.6" lengthAdjust="spacingAndGlyphs">2.0k</text>
<text transform="translate(11.1,132.48) scale(1,0.88)" textLength="50.6" lengthAdjust="spacingAndGlyphs">2.4k</text>
</g>
<g class="mono xlab">
<text transform="translate(107.1,737) scale(1,0.88)" textLength="49.2" lengthAdjust="spacingAndGlyphs">1.00</text>
<text transform="translate(216.2,737) scale(1,0.88)" textLength="49.2" lengthAdjust="spacingAndGlyphs">2.00</text>
<text transform="translate(325.2,737) scale(1,0.88)" textLength="49.2" lengthAdjust="spacingAndGlyphs">3.00</text>
<text transform="translate(434.3,737) scale(1,0.88)" textLength="49.2" lengthAdjust="spacingAndGlyphs">4.00</text>
<text transform="translate(543.4,737) scale(1,0.88)" textLength="49.2" lengthAdjust="spacingAndGlyphs">5.00</text>
<text transform="translate(652.5,737) scale(1,0.88)" textLength="49.2" lengthAdjust="spacingAndGlyphs">6.00</text>
<text transform="translate(761.6,737) scale(1,0.88)" textLength="49.2" lengthAdjust="spacingAndGlyphs">7.00</text>
<text transform="translate(870.6,737) scale(1,0.88)" textLength="49.2" lengthAdjust="spacingAndGlyphs">8.00</text>
<text transform="translate(979.7,737) scale(1,0.88)" textLength="49.2" lengthAdjust="spacingAndGlyphs">9.00</text>
<text transform="translate(1076.4,737) scale(1,0.88)" textLength="61.6" lengthAdjust="spacingAndGlyphs">10.00</text>
<text transform="translate(1185.5,737) scale(1,0.88)" textLength="61.6" lengthAdjust="spacingAndGlyphs">11.00</text>
<text transform="translate(1294.6,737) scale(1,0.88)" textLength="61.6" lengthAdjust="spacingAndGlyphs">12.00</text>
<text transform="translate(1409.2,737) scale(1,0.88)" textLength="36.4" lengthAdjust="spacingAndGlyphs">keV</text>
</g>
<!-- peak labels -->
<g class="mono plab">
<text transform="translate(411.6,63) scale(1,0.88)" textLength="28.6" lengthAdjust="spacingAndGlyphs">Te</text>
<text transform="translate(50.8,663.8) scale(1,0.88)" textLength="28.6" lengthAdjust="spacingAndGlyphs">Te</text>
<text transform="translate(130.6,636.5) scale(1,0.88)" textLength="28.6" lengthAdjust="spacingAndGlyphs">Ge</text>
<text transform="translate(590.7,571) scale(1,0.88)" textLength="28.6" lengthAdjust="spacingAndGlyphs">Cr</text>
<text transform="translate(1078.4,625.5) scale(1,0.88)" textLength="28.6" lengthAdjust="spacingAndGlyphs">Ge</text>
</g>

<!-- element markers -->
<g stroke="#ffff00" stroke-width="1.2" fill="none">
<line x1="60.4" y1="2" x2="60.4" y2="706"/>
<line x1="95.5" y1="634" x2="95.5" y2="706"/>
</g>
<g stroke="#33eeee" fill="none">
<line x1="373.4" y1="672.8" x2="373.4" y2="706" stroke-width="1"/>
<line x1="403" y1="691" x2="403" y2="706" stroke-width="2"/>
<line x1="421.4" y1="44" x2="421.4" y2="706" stroke-width="1"/>
<line x1="420.6" y1="635" x2="420.6" y2="706" stroke-width="1.4"/>
<line x1="449.5" y1="344" x2="449.5" y2="706" stroke-width="1"/>
<line x1="454.6" y1="676.8" x2="454.6" y2="706" stroke-width="1"/>
<line x1="459.5" y1="663.9" x2="459.5" y2="706" stroke-width="1"/>
<line x1="479.4" y1="590" x2="479.4" y2="706" stroke-width="1"/>
<line x1="508.5" y1="666" x2="508.5" y2="706" stroke-width="1"/>
<line x1="536.9" y1="691" x2="536.9" y2="706" stroke-width="2"/>
</g>

<!-- title -->
<g class="sans" fill="#000" font-size="34.67" stroke="#000" stroke-width="0.3">
<text y="67.5"><tspan x="502.1">EDX, </tspan><tspan x="593.2">Cr</tspan><tspan x="630.3" font-size="21" stroke-width="0.5">2</tspan><tspan x="643.9">Ce</tspan><tspan x="687" font-size="21" stroke-width="0.5">2</tspan><tspan x="699.2">Te</tspan><tspan x="738.2" font-size="21" stroke-width="0.5">6</tspan><tspan x="751.7" font-size="34.35"> single crystal</tspan></text>
</g>
<!-- quantification table -->
<g class="mono tbl">
<text transform="translate(597.4,116.2) scale(1,0.88)" textLength="99.8" lengthAdjust="spacingAndGlyphs">Element</text>
<text transform="translate(751.6,116.2) scale(1,0.88)" textLength="55.5" lengthAdjust="spacingAndGlyphs">At %</text>
<text transform="translate(636.4,151) scale(1,0.88)" textLength="44.21" lengthAdjust="spacingAndGlyphs">TeL</text>
<text transform="translate(744.05,151) scale(1,0.88)" textLength="69.75" lengthAdjust="spacingAndGlyphs">57.72</text>
<text transform="translate(636.4,175) scale(1,0.88)" textLength="44.21" lengthAdjust="spacingAndGlyphs">CrK</text>
<text transform="translate(744.05,175) scale(1,0.88)" textLength="69.75" lengthAdjust="spacingAndGlyphs">19.51</text>
<text transform="translate(636.4,198.2) scale(1,0.88)" textLength="44.21" lengthAdjust="spacingAndGlyphs">GeK</text>
<text transform="translate(744.05,198.2) scale(1,0.88)" textLength="69.75" lengthAdjust="spacingAndGlyphs">22.77</text>
<text transform="translate(622.4,221.8) scale(1,0.88)" textLength="70.55" lengthAdjust="spacingAndGlyphs">Total</text>
<text transform="translate(729.98,221.8) scale(1,0.88)" textLength="83.82" lengthAdjust="spacingAndGlyphs">100.00</text>
</g>
<rect x="597" y="119.55" width="236" height="1.15" fill="#000"/>
<rect x="845.5" y="179" width="2" height="1" fill="#333"/>
</svg>
</body>
</html>
